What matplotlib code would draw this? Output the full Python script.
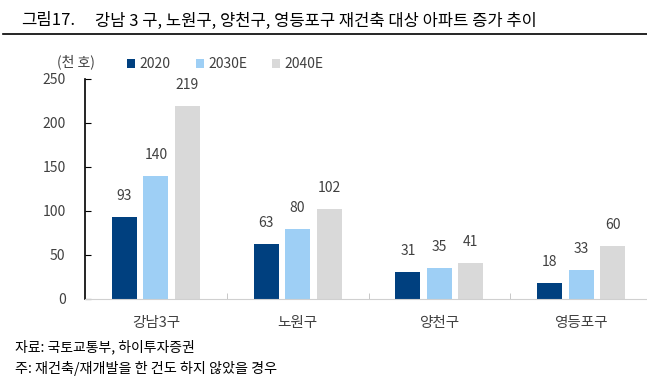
import matplotlib
matplotlib.use('Agg')
import matplotlib.pyplot as plt
import numpy as np
from matplotlib.lines import Line2D

plt.rcParams['font.family'] = ['Noto Sans CJK KR', 'DejaVu Sans']

districts = ['강남3구', '노원구', '양천구', '영등포구']
series = ['2020', '2030E', '2040E']
v2020 = [93, 63, 31, 18]
v2030 = [140, 80, 35, 33]
v2040 = [219, 102, 41, 60]
colors = ['#00407F', '#9ECFF5', '#D9D9D9']

fig = plt.figure(figsize=(6.47, 3.79), dpi=100)
ax = fig.add_axes([85 / 647, 1 - 299 / 379, 567 / 647, 220 / 379])

x = np.arange(len(districts))
width = 0.176
step = 0.222
for i, (vals, c) in enumerate(zip([v2020, v2030, v2040], colors)):
    pos = x + (i - 1) * step
    ax.bar(pos, vals, width=width, color=c, label=series[i], zorder=2)
    for p, v in zip(pos, vals):
        ax.annotate(str(v), xy=(p, v), xytext=(0, 10), textcoords='offset points',
                    ha='center', va='bottom', fontsize=10, color='#404040')

ax.set_xlim(-0.5, 3.5)
ax.set_ylim(0, 250)
ax.set_yticks([0, 50, 100, 150, 200, 250])
ax.set_xticks(x)
ax.set_xticklabels(districts, fontsize=10.5, color='#404040')
ax.set_xticks([0.5, 1.5, 2.5], minor=True)
ax.tick_params(axis='x', which='major', length=0, pad=12)
ax.tick_params(axis='x', which='minor', direction='in', length=4, color='#BFBFBF')
ax.tick_params(axis='y', direction='in', length=4, color='#000000', labelsize=10,
               labelcolor='#404040', pad=14)
for s in ['top', 'right']:
    ax.spines[s].set_visible(False)
ax.spines['left'].set_color('#000000')
ax.spines['left'].set_linewidth(1.2)
ax.spines['bottom'].set_color('#D0D0D0')

fig.text(57 / 647, 1 - 62 / 379, '(천 호)', fontsize=10, color='#404040', va='center')
ax.legend(loc='lower left', bbox_to_anchor=(127 / 647, 1 - 71 / 379), bbox_transform=fig.transFigure,
          ncol=3, frameon=False, fontsize=10, handlelength=0.6, handleheight=0.6,
          handletextpad=0.3, columnspacing=1.8, labelcolor='#404040', borderpad=0, borderaxespad=0)

fig.text(21 / 647, 1 - 21 / 379, '그림17.', fontsize=12, va='center')
fig.text(95 / 647, 1 - 21 / 379, '강남 3 구, 노원구, 양천구, 영등포구 재건축 대상 아파트 증가 추이',
         fontsize=11.9, va='center')
fig.add_artist(Line2D([3 / 647, 1], [1 - 34 / 379, 1 - 34 / 379], color='black', lw=1.2,
                      transform=fig.transFigure))

fig.text(15 / 647, 1 - 347 / 379, '자료: 국토교통부, 하이투자증권', fontsize=10, va='center')
fig.text(15 / 647, 1 - 368 / 379, '주: 재건축/재개발을 한 건도 하지 않았을 경우', fontsize=10.2, va='center')

fig.savefig('out.png', dpi=100)
